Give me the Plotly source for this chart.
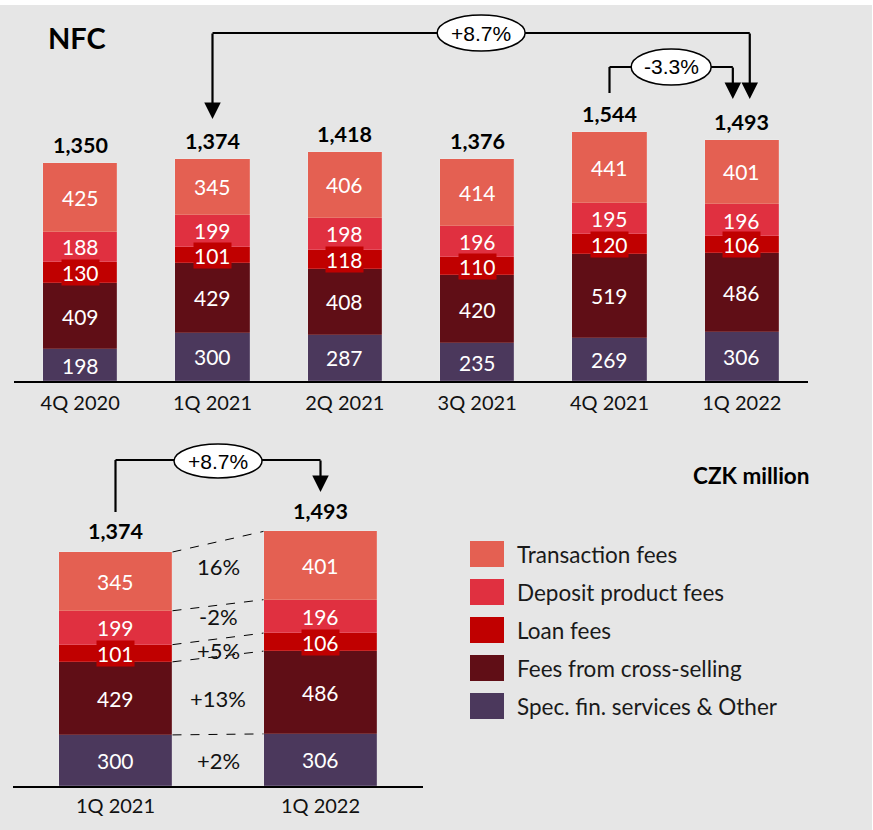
import plotly.graph_objects as go

# ---------------- data ----------------
quarters = ["4Q 2020", "1Q 2021", "2Q 2021", "3Q 2021", "4Q 2021", "1Q 2022"]
spec_fin = [198, 300, 287, 235, 269, 306]
cross_selling = [409, 429, 408, 420, 519, 486]
loan_fees = [130, 101, 118, 110, 120, 106]
deposit_fees = [188, 199, 198, 196, 195, 196]
transaction_fees = [425, 345, 406, 414, 441, 401]
totals = [1350, 1374, 1418, 1376, 1544, 1493]

compare_idx = [1, 5]  # 1Q 2021 vs 1Q 2022
compare_changes = ["+2%", "+13%", "+5%", "-2%", "16%"]  # bottom -> top
yoy_label = "+8.7%"
qoq_label = "-3.3%"

series_names = ["Spec. fin. services & Other", "Fees from cross-selling", "Loan fees",
                "Deposit product fees", "Transaction fees"]
series_vals = [spec_fin, cross_selling, loan_fees, deposit_fees, transaction_fees]
colors = ["#4B385C", "#600E16", "#C00000", "#E03040", "#E46052"]

# ---------------- layout helpers ----------------
W, H = 873, 830
BG = "#E6E6E6"
FONT = "Lato"
def py(y):
    return 1 - y / H
def px(x):
    return x / W

fig = go.Figure()

BW_TOP = 0.56
BW_BOT = 0.556
xs_top = list(range(len(quarters)))
xs_bot = list(range(len(compare_idx)))

for name, vals, col in zip(series_names, series_vals, colors):
    fig.add_trace(go.Bar(x=xs_top, y=vals, name=name, marker_color=col,
                         marker_line=dict(color="rgba(255,255,255,0.25)", width=0.6),
                         width=BW_TOP, xaxis="x", yaxis="y", showlegend=False,
                         hoverinfo="skip"))
    fig.add_trace(go.Bar(x=xs_bot, y=[vals[i] for i in compare_idx], name=name,
                         marker_color=col,
                         marker_line=dict(color="rgba(255,255,255,0.25)", width=0.6),
                         width=BW_BOT, xaxis="x2", yaxis="y2", showlegend=False,
                         hoverinfo="skip"))

annotations = []
shapes = []

# segment labels
def seg_labels(xs, idxs, xref, yref):
    for xi, i in zip(xs, idxs):
        base = 0
        for k, vals in enumerate(series_vals):
            v = vals[i]
            a = dict(x=xi, y=base + v / 2, xref=xref, yref=yref, text=str(v),
                     showarrow=False, font=dict(family=FONT, size=21, color="white"),
                     xanchor="center", yanchor="middle")
            if k == 2:
                a.update(bgcolor=colors[2], borderpad=0)
            annotations.append(a)
            base += v

seg_labels(xs_top, list(range(len(quarters))), "x", "y")
seg_labels(xs_bot, compare_idx, "x2", "y2")

# totals
for xi in xs_top:
    annotations.append(dict(x=xi, y=totals[xi], xref="x", yref="y", text=f"<b>{totals[xi]:,}</b>",
                            showarrow=False, xanchor="center", yanchor="bottom", yshift=3,
                            font=dict(family=FONT, size=21.5, color="black")))
for xi, i in zip(xs_bot, compare_idx):
    annotations.append(dict(x=xi, y=totals[i], xref="x2", yref="y2", text=f"<b>{totals[i]:,}</b>",
                            showarrow=False, xanchor="center", yanchor="bottom", yshift=6,
                            font=dict(family=FONT, size=21.5, color="black")))

# dashed connectors + change labels in bottom chart
label_shift = [0, -3, -3, 6, 7]
cum_a, cum_b = 0, 0
for k, vals in enumerate(series_vals):
    a0, b0 = cum_a, cum_b
    cum_a += vals[compare_idx[0]]
    cum_b += vals[compare_idx[1]]
    shapes.append(dict(type="line", xref="x2", yref="y2", x0=0 + BW_BOT / 2, x1=1 - BW_BOT / 2,
                       y0=cum_a, y1=cum_b, line=dict(color="black", width=1, dash="dash")))
    mid = ((a0 + cum_a) / 2 + (b0 + cum_b) / 2) / 2
    annotations.append(dict(x=0.5, y=mid, xref="x2", yref="y2", text=compare_changes[k],
                            showarrow=False, xanchor="center", yanchor="middle",
                            yshift=label_shift[k],
                            font=dict(family=FONT, size=22, color="#111111")))

LW = 2.2
# ---- bracket +8.7% (top) ----
xr = 5.06
shapes.append(dict(type="line", xref="x", yref="paper", x0=1, x1=xr, y0=py(33), y1=py(33),
                   line=dict(color="black", width=LW)))
annotations.append(dict(x=1, y=py(119), xref="x", yref="paper", ax=0, ay=-(119 - 32), text="",
                        showarrow=True, arrowhead=2, arrowsize=1.5, arrowwidth=LW, arrowcolor="black"))
annotations.append(dict(x=xr, y=py(99), xref="x", yref="paper", ax=0, ay=-(99 - 32), text="",
                        showarrow=True, arrowhead=2, arrowsize=1.5, arrowwidth=LW, arrowcolor="black"))
shapes.append(dict(type="circle", xref="x", xsizemode="pixel", xanchor=(1 + xr) / 2, x0=-44, x1=44,
                   yref="paper", y0=py(51), y1=py(15), fillcolor="white",
                   line=dict(color="black", width=1.5)))
annotations.append(dict(x=(1 + xr) / 2, y=py(33), xref="x", yref="paper", text=yoy_label,
                        showarrow=False, xanchor="center", yanchor="middle",
                        font=dict(family="Liberation Sans", size=21, color="black")))

# ---- bracket -3.3% (top) ----
xq = 5 - 0.068
shapes.append(dict(type="line", xref="x", yref="paper", x0=4, x1=4, y0=py(93), y1=py(67),
                   line=dict(color="black", width=LW)))
shapes.append(dict(type="line", xref="x", yref="paper", x0=4, x1=xq, y0=py(67), y1=py(67),
                   line=dict(color="black", width=LW)))
annotations.append(dict(x=xq, y=py(99), xref="x", yref="paper", ax=0, ay=-(99 - 66), text="",
                        showarrow=True, arrowhead=2, arrowsize=1.5, arrowwidth=LW, arrowcolor="black"))
shapes.append(dict(type="circle", xref="x", xsizemode="pixel", xanchor=(4 + xq) / 2, x0=-40, x1=40,
                   yref="paper", y0=py(85), y1=py(49), fillcolor="white",
                   line=dict(color="black", width=1.5)))
annotations.append(dict(x=(4 + xq) / 2, y=py(67), xref="x", yref="paper", text=qoq_label,
                        showarrow=False, xanchor="center", yanchor="middle",
                        font=dict(family="Liberation Sans", size=21, color="black")))

# ---- bracket +8.7% (bottom) ----
shapes.append(dict(type="line", xref="x2", yref="paper", x0=0, x1=0, y0=py(512), y1=py(460),
                   line=dict(color="black", width=LW)))
shapes.append(dict(type="line", xref="x2", yref="paper", x0=0, x1=1, y0=py(460), y1=py(460),
                   line=dict(color="black", width=LW)))
annotations.append(dict(x=1, y=py(492), xref="x2", yref="paper", ax=0, ay=-(492 - 459), text="",
                        showarrow=True, arrowhead=2, arrowsize=1.5, arrowwidth=LW, arrowcolor="black"))
shapes.append(dict(type="circle", xref="x2", xsizemode="pixel", xanchor=0.5, x0=-44, x1=44,
                   yref="paper", y0=py(478), y1=py(444), fillcolor="white",
                   line=dict(color="black", width=1.5)))
annotations.append(dict(x=0.5, y=py(461), xref="x2", yref="paper", text=yoy_label,
                        showarrow=False, xanchor="center", yanchor="middle",
                        font=dict(family="Liberation Sans", size=21, color="black")))

# ---- title / unit ----
annotations.append(dict(x=px(46), y=py(38), xref="paper", yref="paper", text="<b>NFC</b>",
                        showarrow=False, xanchor="left", yanchor="middle",
                        font=dict(family=FONT, size=29, color="black")))
annotations.append(dict(x=px(811), y=py(475), xref="paper", yref="paper", text="<b>CZK million</b>",
                        showarrow=False, xanchor="right", yanchor="middle",
                        font=dict(family=FONT, size=22.5, color="black")))

# ---- legend (manual, large swatches) ----
leg_rows = [554, 592, 630, 668, 706]
for row, k in zip(leg_rows, [4, 3, 2, 1, 0]):
    shapes.append(dict(type="rect", xref="paper", yref="paper", x0=px(470), x1=px(504),
                       y0=py(row + 13), y1=py(row - 13), fillcolor=colors[k], line=dict(width=0)))
    annotations.append(dict(x=px(515), y=py(row), xref="paper", yref="paper", text=series_names[k],
                            showarrow=False, xanchor="left", yanchor="middle",
                            font=dict(family=FONT, size=22.5, color="#1a1a1a")))

# white frame strips
shapes.append(dict(type="rect", xref="paper", yref="paper", x0=0, x1=1, y0=py(5), y1=1,
                   fillcolor="white", line=dict(width=0), layer="below"))
shapes.append(dict(type="rect", xref="paper", yref="paper", x0=px(872), x1=1, y0=0, y1=1,
                   fillcolor="white", line=dict(width=0), layer="below"))

fig.update_layout(
    width=W, height=H, margin=dict(l=0, r=0, t=0, b=0),
    paper_bgcolor=BG, plot_bgcolor="rgba(0,0,0,0)",
    barmode="stack", bargap=0,
    font=dict(family=FONT, size=20, color="#111111"),
    xaxis=dict(domain=[px(14), px(808)], range=[-0.5, 5.5], anchor="y",
               tickvals=xs_top, ticktext=quarters, showline=True, linecolor="black",
               linewidth=2, ticks="", showgrid=False, zeroline=False, ticklabelstandoff=3,
               tickfont=dict(family=FONT, size=20, color="#111111")),
    yaxis=dict(domain=[py(381), py(10)], range=[0, 371 / 0.1615], visible=False),
    xaxis2=dict(domain=[px(13), px(423)], range=[-0.5, 1.5], anchor="y2",
                tickvals=xs_bot, ticktext=[quarters[i] for i in compare_idx],
                showline=True, linecolor="black", linewidth=2, ticks="", showgrid=False,
                zeroline=False, ticklabelstandoff=1,
                tickfont=dict(family=FONT, size=20, color="#111111")),
    yaxis2=dict(domain=[py(786), py(440)], range=[0, 346 / 0.1703], visible=False),
    shapes=shapes, annotations=annotations,
)

fig.write_html("out.html", config={"displayModeBar": False},
               post_script="document.body.style.margin='0px';")
